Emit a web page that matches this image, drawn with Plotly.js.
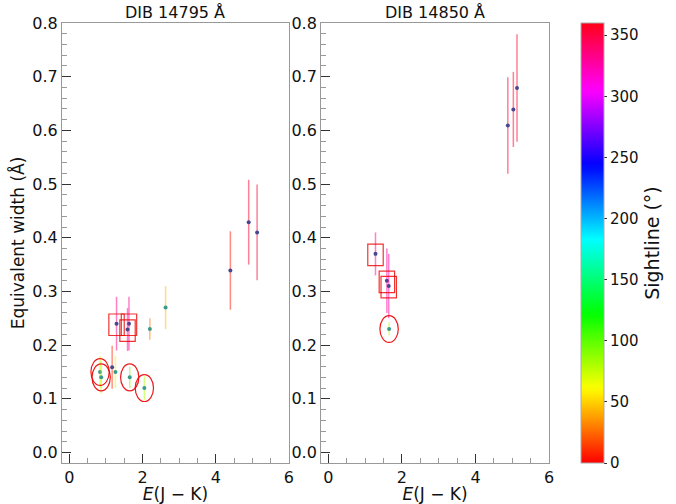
<!DOCTYPE html>
<html>
<head>
<meta charset="utf-8">
<script src="https://cdn.plot.ly/plotly-3.0.1.min.js"></script>
<style>html,body{margin:0;padding:0;background:#fff;}#plot{width:676px;height:504px;}</style>
</head>
<body>
<div id="plot"></div>
<script>
// ---- data: DIB 14795 Å (left panel) ----
const ejk1 = [0.84, 0.87, 1.17, 1.26, 1.29, 1.63, 1.59, 1.65, 2.05, 2.20, 2.63, 4.40, 4.90, 5.13];
const ew1 = [0.150, 0.140, 0.159, 0.150, 0.240, 0.240, 0.229, 0.140, 0.120, 0.230, 0.270, 0.339, 0.429, 0.410];
const err1 = [0.030, 0.030, 0.040, 0.030, 0.050, 0.050, 0.040, 0.020, 0.022, 0.020, 0.040, 0.073, 0.079, 0.089];
const sight1 = [75, 80, 10, 60, 335, 330, 325, 95, 80, 30, 45, 5, 355, 350];
const mgroup1 = [1, 1, 0, 1, 0, 0, 0, 1, 1, 1, 1, 0, 0, 0];
const circled1 = [0, 1, 7, 8];
const boxed1 = [4, 5, 6];

// ---- data: DIB 14850 Å (right panel) ----
const ejk2 = [1.28, 1.59, 1.64, 1.65, 4.88, 5.03, 5.13];
const ew2 = [0.370, 0.320, 0.310, 0.230, 0.609, 0.639, 0.679];
const err2 = [0.040, 0.060, 0.060, 0.012, 0.090, 0.070, 0.100];
const sight2 = [330, 330, 325, 80, 355, 355, 355];
const mgroup2 = [0, 0, 0, 1, 0, 0, 0];
const circled2 = [3];
const boxed2 = [0, 1, 2];

const panelTitles = ['DIB 14795 Å', 'DIB 14850 Å'];
const xTicks = [0, 2, 4, 6];
const yTicks = [0.0, 0.1, 0.2, 0.3, 0.4, 0.5, 0.6, 0.7, 0.8];
const cbTicks = [0, 50, 100, 150, 200, 250, 300, 350];

// matplotlib 'hsv' colormap
const hsvStops = [
  [0.0, [255,0,0]], [0.158730, [255,239,0]], [0.174603, [247,255,0]],
  [0.333333, [8,255,0]], [0.349206, [0,255,16]], [0.507937, [0,255,255]],
  [0.666667, [0,16,255]], [0.682540, [8,0,255]], [0.841270, [247,0,255]],
  [0.857143, [255,0,239]], [1.0, [255,0,24]]
];
const hsvScale = hsvStops.map(s => [s[0], 'rgb(' + s[1].join(',') + ')']);
function hsvColor(v, alpha) {
  const t = Math.max(0, Math.min(1, v / 360));
  for (let i = 1; i < hsvStops.length; i++) {
    if (t <= hsvStops[i][0]) {
      const a = hsvStops[i-1], b = hsvStops[i];
      const f = (t - a[0]) / (b[0] - a[0]);
      const c = a[1].map((ca, k) => Math.round(ca + f * (b[1][k] - ca)));
      return 'rgba(' + c.join(',') + ',' + alpha + ')';
    }
  }
  return 'rgba(255,0,24,' + alpha + ')';
}
const markerColors = ['#47478f', '#3a9a8a'];

const traces = [];
const shapes = [];
function addPanel(xs, ys, es, ss, mg, circ, box, xa, ya) {
  for (let i = 0; i < xs.length; i++) {
    traces.push({
      type: 'scatter', mode: 'markers', x: [xs[i]], y: [ys[i]],
      xaxis: xa, yaxis: ya, showlegend: false, hoverinfo: 'x+y',
      marker: {size: 4, color: markerColors[mg[i]]},
      error_y: {type: 'data', array: [es[i]], visible: true, color: hsvColor(ss[i], 0.5), thickness: 1.5, width: 0}
    });
  }
  circ.forEach(i => shapes.push({
    type: 'circle', xref: xa, yref: ya,
    x0: xs[i] - 0.25, x1: xs[i] + 0.25, y0: ys[i] - 0.025, y1: ys[i] + 0.025,
    line: {color: 'rgba(235,0,0,0.9)', width: 1.2}
  }));
  box.forEach(i => shapes.push({
    type: 'rect', xref: xa, yref: ya,
    x0: xs[i] - 0.21, x1: xs[i] + 0.21, y0: ys[i] - 0.022, y1: ys[i] + 0.018,
    line: {color: 'rgba(235,0,0,0.8)', width: 1.2}
  }));
}
addPanel(ejk1, ew1, err1, sight1, mgroup1, circled1, boxed1, 'x', 'y');
addPanel(ejk2, ew2, err2, sight2, mgroup2, circled2, boxed2, 'x2', 'y2');

// colorbar carrier
traces.push({
  type: 'scatter', mode: 'markers', x: ejk1, y: ew1, xaxis: 'x', yaxis: 'y',
  showlegend: false, hoverinfo: 'skip',
  marker: {
    size: 4, opacity: 0, color: sight1, colorscale: hsvScale, cmin: 0, cmax: 360,
    showscale: true,
    colorbar: {
      x: 1.066, xanchor: 'left', xref: 'paper', y: 0.5, yanchor: 'middle',
      len: 1, lenmode: 'fraction', thickness: 23, thicknessmode: 'pixels',
      xpad: 0, ypad: 0, outlinecolor: '#aaa', outlinewidth: 1,
      tickvals: cbTicks, ticks: 'outside', ticklen: 3, tickcolor: '#333',
      tickfont: {family: 'DejaVu Sans', size: 15, color: '#111'},
      title: {text: 'Sightline (°)', side: 'right', font: {family: 'DejaVu Sans', size: 19, color: '#111'}}
    }
  }
});

const fontTick = {family: 'DejaVu Sans', size: 16, color: '#111'};
function xAxis(domain, anchor) {
  return {
    domain: domain, anchor: anchor, range: [-0.2, 6], tickvals: xTicks,
    ticks: 'inside', ticklen: 9, tickcolor: '#333', tickwidth: 1,
    minor: {dtick: 0.5, ticks: 'inside', ticklen: 5, tickcolor: '#999', showgrid: false},
    showgrid: false, zeroline: false, showline: true, mirror: true, linecolor: '#999', linewidth: 1,
    tickfont: fontTick,
    title: {text: '<i>E</i>(J − K)', font: {family: 'DejaVu Sans', size: 17, color: '#111'}, standoff: 0}
  };
}
function yAxis(anchor, withTitle) {
  const a = {
    anchor: anchor, range: [-0.0195, 0.8], tickvals: yTicks, tickformat: '.1f',
    ticks: 'inside', ticklen: 9, tickcolor: '#333', tickwidth: 1,
    minor: {dtick: 0.02, ticks: 'inside', ticklen: 5, tickcolor: '#999', showgrid: false},
    showgrid: false, zeroline: false, showline: true, mirror: true, linecolor: '#999', linewidth: 1,
    tickfont: fontTick
  };
  if (withTitle) a.title = {text: 'Equivalent width (Å)', font: {family: 'DejaVu Sans', size: 17, color: '#111'}, standoff: 3};
  return a;
}

const layout = {
  width: 676, height: 504,
  margin: {l: 62, r: 127, t: 23, b: 41},
  paper_bgcolor: '#fff', plot_bgcolor: '#fff',
  showlegend: false,
  xaxis: xAxis([0, 0.466], 'y'),
  yaxis: yAxis('x', true),
  xaxis2: xAxis([0.532, 1], 'y2'),
  yaxis2: yAxis('x2', false),
  shapes: shapes,
  annotations: [
    {text: panelTitles[0], xref: 'paper', yref: 'paper', x: 0.233, xanchor: 'center', y: 1, yanchor: 'bottom', yshift: -1, showarrow: false, font: {family: 'DejaVu Sans', size: 16, color: '#111'}},
    {text: panelTitles[1], xref: 'paper', yref: 'paper', x: 0.766, xanchor: 'center', y: 1, yanchor: 'bottom', yshift: -1, showarrow: false, font: {family: 'DejaVu Sans', size: 16, color: '#111'}}
  ]
};

Plotly.newPlot('plot', traces, layout, {staticPlot: true, displayModeBar: false});
</script>
</body>
</html>
